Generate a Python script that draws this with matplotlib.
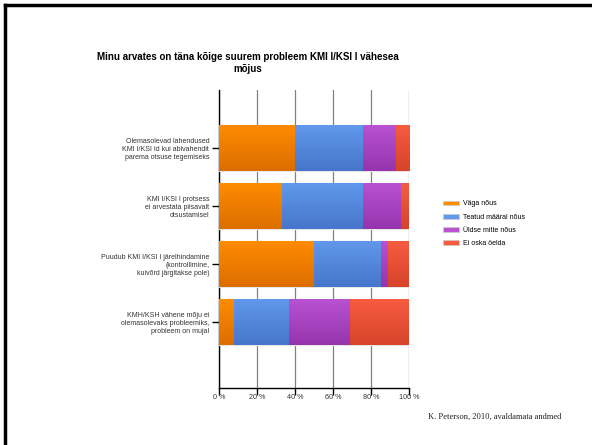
"""Stacked horizontal bar chart: Minu arvates on täna kõige suurem probleem KMI I/KSI I vähesea mõjus."""

import matplotlib

matplotlib.use("Agg")
import matplotlib.pyplot as plt
import numpy as np
from matplotlib.colors import LinearSegmentedColormap
from matplotlib.lines import Line2D
from matplotlib.patches import Patch

categories = [
    "Olemasolevad lahendused\nKMI I/KSI Id kui abivahendit\nparema otsuse tegemiseks",
    "KMI I/KSI I protsess\nei arvestata piisavalt\notsustamisel",
    "Puudub KMI I/KSI I järelhindamine\n(kontrollimine,\nkuivõrd järgitakse pole)",
    "KMH/KSH vähene mõju ei\nolemasolevaks probleemiks,\nprobleem on mujal",
]
series = ["Väga nõus", "Teatud määral nõus", "Üldse mitte nõus", "Ei oska öelda"]
vaga = [40, 33, 50, 8]
teatud = [36, 43, 35, 29]
uldse = [17, 20, 4, 32]
ei_oska = [7, 4, 11, 31]
values = [vaga, teatud, uldse, ei_oska]
xticks = [0, 20, 40, 60, 80, 100]

# (top, bottom) colours of the gradient fill
shades = [
    ("#ff8c00", "#dc6e00"),
    ("#6199ec", "#4676cc"),
    ("#b853d2", "#9634ad"),
    ("#f75c40", "#d7442a"),
]

plt.rcParams["font.family"] = ["Liberation Sans", "DejaVu Sans"]

fig = plt.figure(figsize=(5.92, 4.45), dpi=100)
W, H = 592, 445
ax = fig.add_axes([219 / W, 1 - 388 / H, 190 / W, 298 / H])

y = np.arange(len(categories))
left = np.zeros(len(categories))
for vals, (top, bot), name in zip(values, shades, series):
    bars = ax.barh(y, vals, left=left, height=0.8, color=bot,
                   edgecolor="#e6e6e6", linewidth=0.8, zorder=3, label=name)
    cmap = LinearSegmentedColormap.from_list(name, [top, bot])
    grad = np.linspace(0, 1, 64).reshape(-1, 1)
    for b in bars:
        x0, y0 = b.get_x(), b.get_y()
        im = ax.imshow(grad, cmap=cmap, aspect="auto", zorder=3.5,
                       extent=(x0, x0 + b.get_width(), y0 + b.get_height(), y0),
                       origin="upper")
        im.set_clip_path(b)
    left += np.array(vals)

ax.set_xlim(0, 100)
ax.set_ylim(4.14, -1.0)
ax.set_xticks(xticks)
ax.set_xticklabels([f"{t} %" for t in xticks], fontsize=5.2, color="#333333")
ax.set_yticks(y)
ax.set_yticklabels(categories, fontsize=5, color="#333333", linespacing=1.25)
ax.grid(axis="x", color="#808080", linewidth=0.9, zorder=1)
for s in ("top", "right"):
    ax.spines[s].set_visible(False)
ax.spines["left"].set_linewidth(1.0)
ax.spines["bottom"].set_linewidth(1.0)
ax.tick_params(axis="y", length=5, width=1.0, pad=2)
ax.tick_params(axis="x", length=5, width=1.0, direction="in", pad=4)
for t in ax.xaxis.get_major_ticks():
    t.tick1line.set_marker(3)  # tick crossing downwards

fig.text(248 / W, 1 - 63 / H, "Minu arvates on täna kõige suurem probleem KMI I/KSI I vähesea\nmõjus",
         ha="center", va="center", fontsize=7.0, fontweight="bold", linespacing=1.25)

handles = [Patch(facecolor=c[0], edgecolor="#cccccc", linewidth=0.5) for c in shades]
fig.legend(handles, series, loc="upper left", bbox_to_anchor=(440 / W, 1 - 197 / H),
           frameon=False, fontsize=5, handlelength=2.2, handleheight=0.7,
           labelspacing=0.9, handletextpad=0.6, borderpad=0)

fig.text(428 / W, 1 - 417 / H, "K. Peterson, 2010, avaldamata andmed",
         family=["Liberation Serif", "DejaVu Serif"], fontsize=6.1,
         ha="left", va="center", color="#222222")

# slide frame (top and left edges)
fig.add_artist(Line2D([5 / W, 1], [1 - 5 / H, 1 - 5 / H], color="black", lw=2.5,
                      transform=fig.transFigure))
fig.add_artist(Line2D([5 / W, 5 / W], [0, 1 - 5 / H], color="black", lw=2.5,
                      transform=fig.transFigure))

fig.savefig("out.png", dpi=100)
